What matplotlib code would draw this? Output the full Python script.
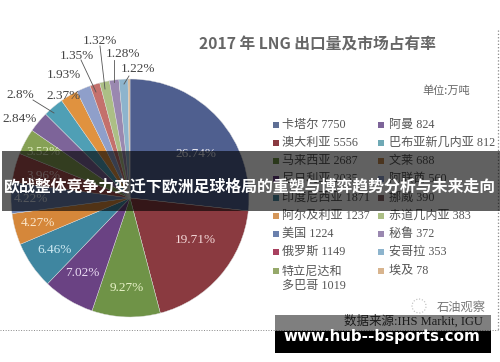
import matplotlib
matplotlib.use('Agg')
import matplotlib.pyplot as plt
from matplotlib.patches import Rectangle, Circle

plt.rcParams['font.family'] = ['Noto Sans CJK SC', 'DejaVu Sans']
SERIF = ['Liberation Serif', 'Noto Sans CJK SC']

W, H = 500, 362

# pie, clockwise from the top
slice_names = ['卡塔尔', '澳大利亚', '马来西亚', '尼日利亚', '印度尼西亚', '阿尔及利亚', '美国', '俄罗斯',
               '特立尼达和多巴哥', '阿曼', '巴布亚新几内亚', '文莱', '阿联酋', '挪威', '赤道几内亚', '秘鲁', '安哥拉', '埃及']
slice_values = [7750, 5556, 2687, 2035, 1871, 1237, 1224, 1149, 1019, 824, 812, 688, 560, 390, 383, 372, 353, 78]
slice_labels = ['26.74%', '19.71%', '9.27%', '7.02%', '6.46%', '4.27%', '4.22%', '3.96%', '3.52%',
                '2.84%', '2.8%', '2.37%', '1.93%', '1.35%', '1.32%', '1.28%', '1.22%', '']
slice_colors = ['#4f5f8f', '#8a3a40', '#6f9347', '#6a4283', '#3f86a0', '#d5873a', '#6b80ad', '#a8504f',
                '#86a155', '#7d6499', '#4f9fb5', '#e0923f', '#8f9fca', '#c4706c', '#acbf85', '#9a88b0', '#8db4cd', '#d8b48e']

# legend text, left then right column
legend_left = ['卡塔尔 7750', '澳大利亚 5556', '马来西亚 2687', '尼日利亚 2035', '印度尼西亚 1871',
               '阿尔及利亚 1237', '美国 1224', '俄罗斯 1149', '特立尼达和\n多巴哥 1019']
legend_right = ['阿曼 824', '巴布亚新几内亚 812', '文莱 688', '阿联酋 560', '挪威 390',
                '赤道几内亚 383', '秘鲁 372', '安哥拉 353', '埃及 78']
left_colors = ['#5f6f95', '#8a3a40', '#6f9347', '#6a4283', '#4f8fa5', '#d5975a', '#6b80ad', '#a8405f', '#96a96a']
right_colors = ['#7d6499', '#6fa9b5', '#c48a50', '#8f9fca', '#8a6a6c', '#acbf85', '#9a88b0', '#8db4cd', '#d8b48e']

fig = plt.figure(figsize=(W / 100, H / 100), dpi=100)
bg = fig.add_axes([0, 0, 1, 1])
bg.set_xlim(0, W)
bg.set_ylim(H, 0)
bg.axis('off')

# pie axes: centre (130,198), radius 119 px
ax = fig.add_axes([(130 - 119) / W, 1 - (198 + 119) / H, 238 / W, 238 / H])
ax.pie(slice_values, colors=slice_colors, startangle=90, counterclock=False, radius=1,
       wedgeprops={'linewidth': 0.3, 'edgecolor': '#dddddd'})
ax.set_xlim(-1, 1)
ax.set_ylim(-1, 1)

# labels on top of the pie: slice index -> pixel position, colour
label_pos = {0: (196, 154, '#e8e8f0'), 1: (195, 240, '#f3d8d8'), 2: (127, 288, '#e8f3c8'), 3: (82, 273, '#eadcf3'),
             4: (55, 250, '#cfeaf3'), 5: (38, 223, '#fbe8cc'), 6: (31, 199, '#dfe6f3'), 7: (43, 176, '#f3d0d0'),
             8: (43, 152, '#e0edc0'),
             9: (20, 119, '#444444'), 10: (20, 95, '#444444'), 11: (64, 96, '#444444'), 12: (64, 75, '#444444'),
             13: (77, 56, '#444444'), 14: (100, 41, '#444444'), 15: (123, 54, '#444444'), 16: (138, 69, '#444444')}
over_pie = fig.add_axes([0, 0, 1, 1], zorder=3)
over_pie.set_xlim(0, W)
over_pie.set_ylim(H, 0)
over_pie.axis('off')
over_pie.patch.set_alpha(0)
for i, (tx, ty, c) in label_pos.items():
    over_pie.text(tx, ty, slice_labels[i], color=c, fontsize=9.5, family=SERIF, ha='center', va='center')

# leader lines
lines_x = [(33, 54), (81, 96), (100, 105), (114, 114), (129, 124)]
lines_y = [(100, 113), (60, 92), (46, 89), (60, 82), (76, 84)]
for lx, ly in zip(lines_x, lines_y):
    over_pie.plot(lx, ly, color='#555555', lw=0.6)

# title, unit
bg.text(199, 45, '2017 年 LNG 出口量及市场占有率', color='#666666', fontsize=11.3, fontweight='bold', ha='left', va='center')
bg.text(422, 91, '单位:万吨', color='#666666', fontsize=8, ha='left', va='center')

# legend
rows_y = [125, 143, 161, 179, 198, 216, 234, 252, 271]
for y, name, col in zip(rows_y, legend_left, left_colors):
    y2 = y + 7.5 if '\n' in name else y
    bg.add_patch(Rectangle((273, y - 3), 6, 6, color=col, lw=0))
    bg.text(282, y2, name, color='#555555', fontsize=8.7, family=SERIF, ha='left', va='center', linespacing=1.25)
for y, name, col in zip(rows_y, legend_right, right_colors):
    bg.add_patch(Rectangle((378, y - 3), 6, 6, color=col, lw=0))
    bg.text(389, y, name, color='#555555', fontsize=8.7, family=SERIF, ha='left', va='center')

# watermark and source
bg.add_patch(Circle((419, 306), 7, fill=False, ec='#bbbbbb', lw=0.8, ls=':'))
bg.text(437, 307, '石油观察', color='#777777', fontsize=8.8, ha='left', va='center')
bg.text(344, 321, '数据来源:IHS Markit, IGU', color='#333333', fontsize=9, family=SERIF, ha='left', va='center', zorder=3)

# dotted border
bg.plot([0, 498], [330, 330], color='#888888', lw=0.7, ls=':', zorder=3)
bg.plot([498, 498], [30, 330], color='#888888', lw=0.9, ls=':', zorder=3)

# dark overlays on top of everything
over = fig.add_axes([0, 0, 1, 1], zorder=5)
over.set_xlim(0, W)
over.set_ylim(H, 0)
over.axis('off')
over.patch.set_alpha(0)
over.add_patch(Rectangle((2, 151), 498, 60, color='#000000', alpha=0.62, lw=0))
over.add_patch(Rectangle((275, 315), 216, 16, color='#000000', alpha=0.5, lw=0))
over.add_patch(Rectangle((275, 331), 216, 22, color='black', lw=0))
over.text(250.5, 186, '欧战整体竞争力变迁下欧洲足球格局的重塑与博弈趋势分析与未来走向', color='white',
          fontsize=11.45, fontweight='bold', ha='center', va='center')
over.text(382, 337, 'www.hub--bsports.com', color='white', fontsize=10.9, fontweight='bold',
          family='DejaVu Sans', ha='center', va='center')

fig.savefig('out.png', dpi=100)
